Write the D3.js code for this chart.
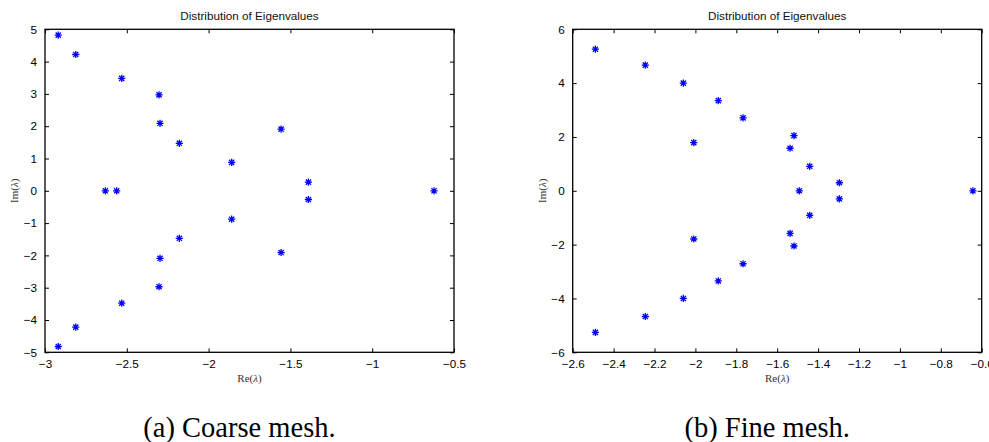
<!DOCTYPE html>
<html>
<head>
<meta charset="utf-8">
<script src="https://cdn.jsdelivr.net/npm/d3@7"></script>
<style>
  html, body { margin: 0; padding: 0; background: #fff; }
  svg { display: block; }
</style>
</head>
<body>
<svg id="chart" width="989" height="442"></svg>
<script>
// ---- Data ----
const coarseRe = [-2.919, -2.812, -2.531, -2.303, -2.297, -2.179, -1.859, -1.557, -1.390,
                  -2.631, -2.562, -0.622,
                  -1.390, -1.859, -2.179, -2.297, -2.303, -2.531, -2.812, -2.919, -1.557];
const coarseIm = [4.82, 4.22, 3.48, 2.97, 2.09, 1.47, 0.88, 1.91, 0.27,
                  0, 0, 0,
                  -0.27, -0.88, -1.47, -2.09, -2.97, -3.48, -4.22, -4.82, -1.91];

const fineRe = [-2.489, -2.245, -2.059, -1.888, -1.767, -2.008, -1.518, -1.537, -1.441, -1.296,
                -1.492, -0.643,
                -1.296, -1.441, -1.537, -1.518, -2.008, -1.767, -1.888, -2.059, -2.245, -2.489];
const fineIm = [5.26, 4.67, 4.00, 3.35, 2.71, 1.79, 2.05, 1.58, 0.91, 0.30,
                0, 0,
                -0.30, -0.91, -1.58, -2.05, -1.79, -2.71, -3.35, -4.00, -4.67, -5.26];

const coarseXTicks = [-3, -2.5, -2, -1.5, -1, -0.5];
const coarseYTicks = [-5, -4, -3, -2, -1, 0, 1, 2, 3, 4, 5];
const fineXTicks = [-2.6, -2.4, -2.2, -2, -1.8, -1.6, -1.4, -1.2, -1, -0.8, -0.6];
const fineYTicks = [-6, -4, -2, 0, 2, 4, 6];

const titleText = "Distribution of Eigenvalues";
const captions = ["(a) Coarse mesh.", "(b) Fine mesh."];

// ---- Drawing ----
const svg = d3.select("#chart");
const sansFont = "'Liberation Sans', Arial, Helvetica, sans-serif";
const serifFont = "'Liberation Serif', 'Times New Roman', serif";

function fmt(v) {
  const s = d3.format("")(Math.round(v * 10) / 10);
  return s.replace("-", "\u2212");
}

function panel(opts) {
  const {left, right, top, bottom, xDomain, yDomain, xTicks, yTicks, re, im, caption, ylabX} = opts;
  const x = d3.scaleLinear().domain(xDomain).range([left, right]);
  const y = d3.scaleLinear().domain(yDomain).range([bottom, top]);
  const g = svg.append("g");
  const tickLen = 4;

  // bottom axis
  const ax = d3.axisBottom(x).tickValues(xTicks).tickSizeInner(-tickLen).tickSizeOuter(0).tickPadding(7).tickFormat(fmt);
  const gx = g.append("g").attr("transform", `translate(0,${bottom})`).call(ax);
  // top ticks
  const axT = d3.axisTop(x).tickValues(xTicks).tickSizeInner(-tickLen).tickSizeOuter(0).tickFormat("");
  const gxt = g.append("g").attr("transform", `translate(0,${top})`).call(axT);
  // left axis
  const ay = d3.axisLeft(y).tickValues(yTicks).tickSizeInner(-tickLen).tickSizeOuter(0).tickPadding(8).tickFormat(fmt);
  const gy = g.append("g").attr("transform", `translate(${left},0)`).call(ay);
  // right ticks
  const ayR = d3.axisRight(y).tickValues(yTicks).tickSizeInner(-tickLen).tickSizeOuter(0).tickFormat("");
  const gyr = g.append("g").attr("transform", `translate(${right},0)`).call(ayR);

  [gx, gxt, gy, gyr].forEach(a => {
    a.select(".domain").remove();
    a.selectAll("line").attr("stroke", "#000").attr("stroke-width", 1);
    a.selectAll("text").attr("font-family", sansFont).attr("font-size", "11.7px").attr("fill", "#000");
  });

  // box
  g.append("rect").attr("x", left).attr("y", top).attr("width", right - left).attr("height", bottom - top)
    .attr("fill", "none").attr("stroke", "#000").attr("stroke-width", 1.3);

  // title
  g.append("text").attr("x", (left + right) / 2).attr("y", 20).attr("text-anchor", "middle")
    .attr("font-family", sansFont).attr("font-size", "11.7px").attr("fill", "#111").text(titleText);

  // axis labels
  const xl = g.append("text").attr("x", (left + right) / 2).attr("y", 382).attr("text-anchor", "middle")
    .attr("font-family", serifFont).attr("font-size", "11px").attr("fill", "#333");
  xl.append("tspan").text("Re(");
  xl.append("tspan").attr("font-style", "italic").text("λ");
  xl.append("tspan").text(")");
  const yl = g.append("text").attr("transform", `translate(${ylabX},${(top + bottom) / 2}) rotate(-90)`)
    .attr("text-anchor", "middle")
    .attr("font-family", serifFont).attr("font-size", "11px").attr("fill", "#333");
  yl.append("tspan").text("Im(");
  yl.append("tspan").attr("font-style", "italic").text("λ");
  yl.append("tspan").text(")");

  // markers (asterisks)
  const pts = re.map((r, i) => [r, im[i]]);
  const s = 3.6, d = s * 0.72;
  const star = `M${-s},0L${s},0M0,${-s}L0,${s}M${-d},${-d}L${d},${d}M${-d},${d}L${d},${-d}`;
  g.append("g").selectAll("path").data(pts).join("path")
    .attr("transform", p => `translate(${x(p[0])},${y(p[1])})`)
    .attr("d", star).attr("stroke", "#0000ff").attr("stroke-width", 1.3).attr("fill", "none");

  // caption
  g.append("text").attr("x", (left + right) / 2 - 10).attr("y", 437).attr("text-anchor", "middle")
    .attr("font-family", serifFont).attr("font-size", "28.5px").attr("fill", "#000").text(caption);
}

panel({left: 45, right: 454, top: 29.3, bottom: 352.3,
       xDomain: [-3, -0.5], yDomain: [-5, 5], xTicks: coarseXTicks, yTicks: coarseYTicks,
       re: coarseRe, im: coarseIm, caption: captions[0], ylabX: 18});
panel({left: 572.7, right: 981.7, top: 29.3, bottom: 352.3,
       xDomain: [-2.6, -0.6], yDomain: [-6, 6], xTicks: fineXTicks, yTicks: fineYTicks,
       re: fineRe, im: fineIm, caption: captions[1], ylabX: 546});
</script>
</body>
</html>
